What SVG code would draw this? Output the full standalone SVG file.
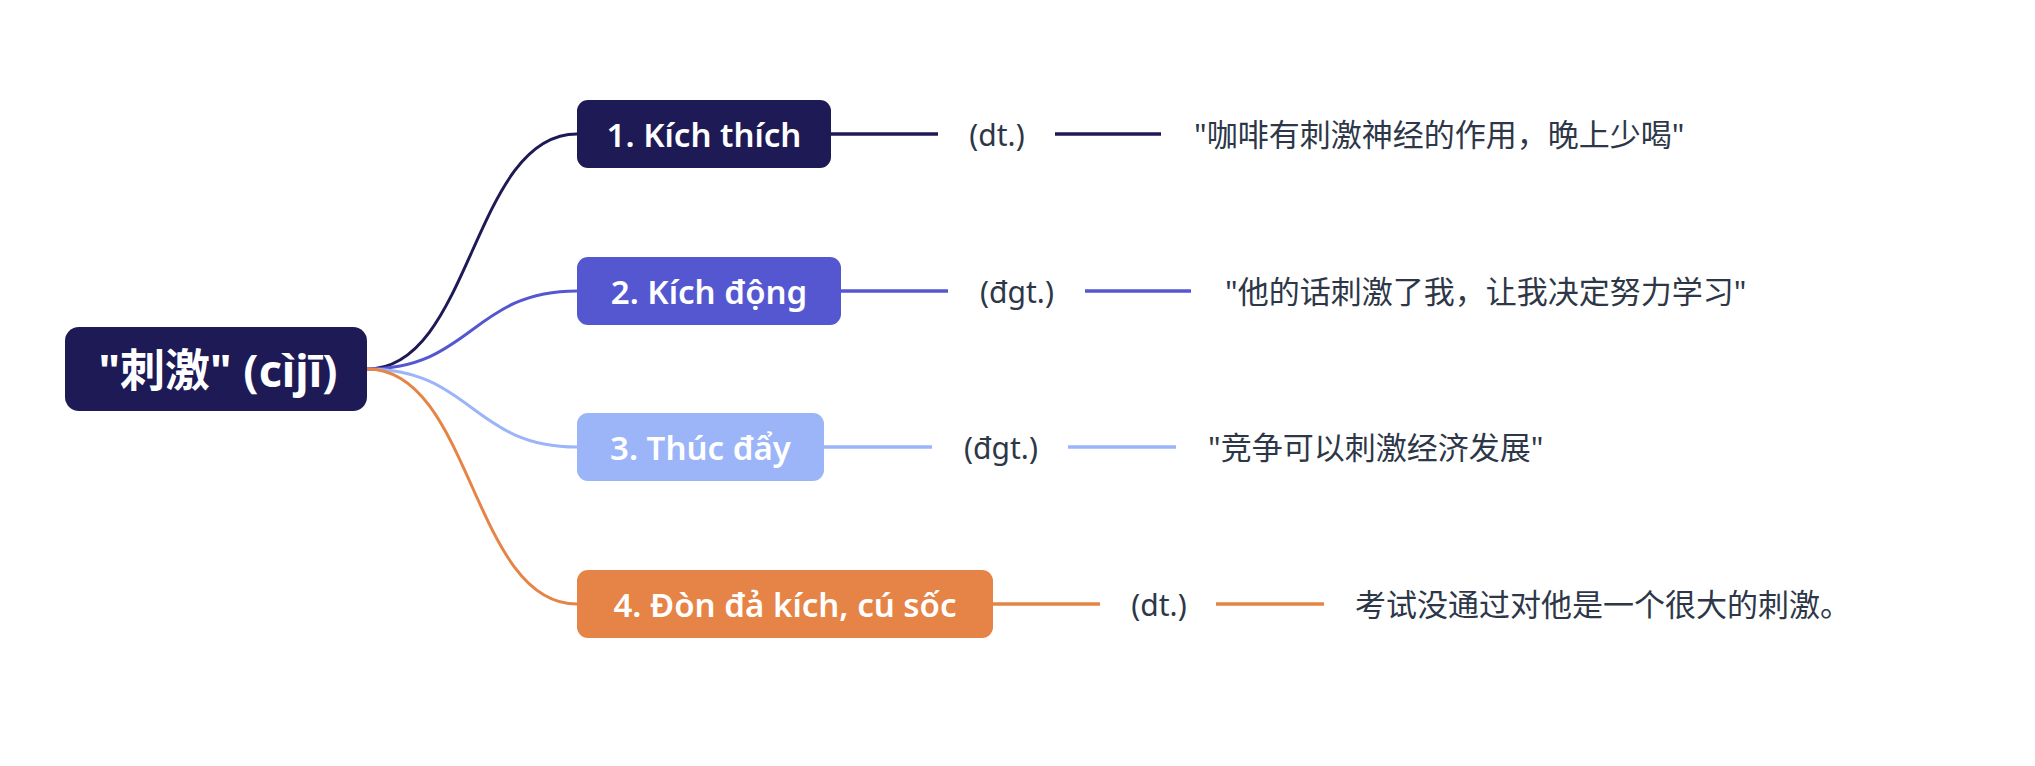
<svg xmlns="http://www.w3.org/2000/svg" width="2035" height="766" viewBox="0 0 2035 766">
  <style>
    .bg { fill: #ffffff; }
    .nodetext { font-family: "Noto Sans", "Noto Sans CJK SC", sans-serif; font-weight: 600; font-size: 33px; fill: #ffffff; text-anchor: middle; dominant-baseline: central; }
    .roottext { font-family: "Noto Sans", "Noto Sans CJK SC", sans-serif; font-weight: 700; font-size: 45px; fill: #ffffff; text-anchor: middle; dominant-baseline: central; }
    .pos { font-family: "Noto Sans", "Noto Sans CJK SC", sans-serif; font-size: 30px; fill: #2d3748; text-anchor: middle; dominant-baseline: central; }
    .ex { font-family: "Noto Sans", "Noto Sans CJK SC", sans-serif; font-size: 31px; fill: #2d3748; dominant-baseline: central; }
    .edge { fill: none; stroke-width: 3; }
    .hline { fill: none; stroke-width: 3.5; }
    .c1 { stroke: #1e1a55; }
    .c2 { stroke: #5557d0; }
    .c3 { stroke: #9bb5f8; }
    .c4 { stroke: #e58446; }
  </style>
  <rect class="bg" x="0" y="0" width="2035" height="766"/>

  <g id="connectors">
    <path class="edge c1" d="M367,369 C472,369 472,134 577,134"/>
    <path class="edge c2" d="M367,369 C472,369 472,291 577,291"/>
    <path class="edge c3" d="M367,369 C472,369 472,447 577,447"/>
    <path class="edge c4" d="M367,369 C472,369 472,604 577,604"/>

    <line class="hline c1" x1="831" y1="134" x2="938" y2="134"/>
    <line class="hline c1" x1="1055" y1="134" x2="1161" y2="134"/>

    <line class="hline c2" x1="841" y1="291" x2="948" y2="291"/>
    <line class="hline c2" x1="1085" y1="291" x2="1191" y2="291"/>

    <line class="hline c3" x1="824" y1="447" x2="932" y2="447"/>
    <line class="hline c3" x1="1068" y1="447" x2="1176" y2="447"/>

    <line class="hline c4" x1="993" y1="604" x2="1100" y2="604"/>
    <line class="hline c4" x1="1216" y1="604" x2="1324" y2="604"/>
  </g>

  <g id="root">
    <rect x="65" y="327" width="302" height="84" rx="14" fill="#1e1a55"/>
    <text class="roottext" x="218" y="369">"刺激" (cìjī)</text>
  </g>

  <g id="node1">
    <rect x="577" y="100" width="254" height="68" rx="11" fill="#1e1a55"/>
    <text class="nodetext" x="704" y="134">1. Kích thích</text>
  </g>
  <g id="node2">
    <rect x="577" y="257" width="264" height="68" rx="11" fill="#5557d0"/>
    <text class="nodetext" x="709" y="291">2. Kích động</text>
  </g>
  <g id="node3">
    <rect x="577" y="413" width="247" height="68" rx="11" fill="#9bb5f8"/>
    <text class="nodetext" x="700.5" y="447">3. Thúc đẩy</text>
  </g>
  <g id="node4">
    <rect x="577" y="570" width="416" height="68" rx="11" fill="#e58446"/>
    <text class="nodetext" x="785" y="604">4. Đòn đả kích, cú sốc</text>
  </g>

  <g id="pos1"><text class="pos" x="997" y="134">(dt.)</text></g>
  <g id="pos2"><text class="pos" x="1017" y="291">(đgt.)</text></g>
  <g id="pos3"><text class="pos" x="1001" y="447">(đgt.)</text></g>
  <g id="pos4"><text class="pos" x="1159" y="604">(dt.)</text></g>

  <g id="ex1"><text class="ex" x="1194" y="134">"咖啡有刺激神经的作用，晚上少喝"</text></g>
  <g id="ex2"><text class="ex" x="1225" y="291">"他的话刺激了我，让我决定努力学习"</text></g>
  <g id="ex3"><text class="ex" x="1208" y="447">"竞争可以刺激经济发展"</text></g>
  <g id="ex4"><text class="ex" x="1355" y="604">考试没通过对他是一个很大的刺激。</text></g>
</svg>
